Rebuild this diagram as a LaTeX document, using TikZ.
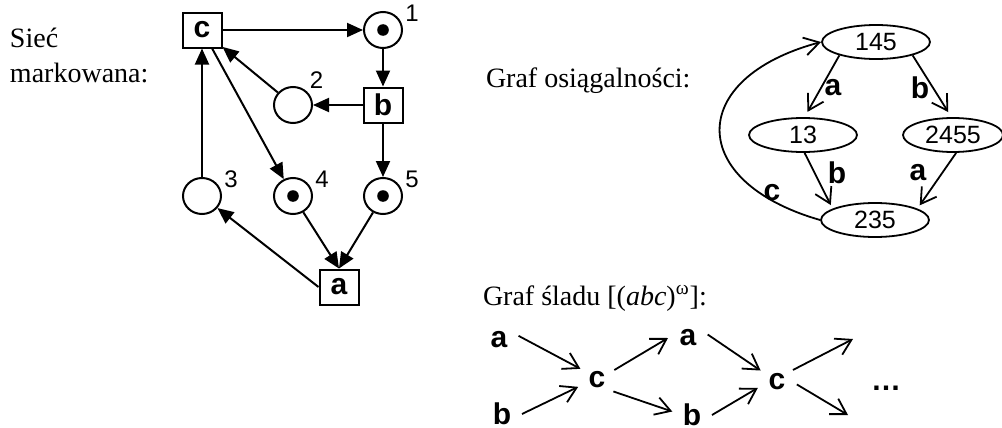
\documentclass[tikz,border=0pt]{standalone}
\usepackage{fontspec}
\setmainfont{Liberation Serif}
\setsansfont{Liberation Sans}
\usetikzlibrary{arrows.meta}
\usetikzlibrary{shapes.geometric}

\begin{document}
\begin{tikzpicture}[x=0.5pt, y=-0.5pt, line width=1pt,
    trans/.style={draw, rectangle, minimum width=19.5pt, minimum height=17.5pt, inner sep=0pt, font=\sffamily\bfseries\fontsize{15}{15}\selectfont},
    place/.style={draw, ellipse, minimum width=19pt, minimum height=18pt, inner sep=0pt},
    marked/.style={path picture={\fill (path picture bounding box.center) circle (2.9pt);}},
    num/.style={font=\sffamily\fontsize{12}{12}\selectfont, inner sep=1pt},
    state/.style={draw, ellipse, minimum width=54pt, minimum height=17pt, inner sep=0pt, line width=0.9pt, font=\sffamily\fontsize{12.5}{12.5}\selectfont},
    lab/.style={font=\sffamily\bfseries\fontsize{15}{15}\selectfont, inner sep=0pt},
    ev/.style={circle, minimum size=19pt, inner sep=0pt, font=\sffamily\bfseries\fontsize{15}{15}\selectfont},
    arc/.style={-{Triangle[length=8pt,width=7pt]}},
    edge/.style={-{Straight Barb[length=7.5pt,width=9pt]}, line width=0.9pt},
    txt/.style={anchor=base west, inner sep=0pt, font=\fontsize{14}{17}\selectfont}]
\useasboundingbox (0,0) rectangle (1002,428);

\node[txt] (siec) at (9,47) {Sieć};
\node[txt] (mark) at (9,82) {markowana:};
\node[txt] (reach) at (485,87) {Graf osiągalności:};
\node[txt] (trace) at (482,305) {Graf śladu [(\textit{abc})\textsuperscript{ω}]:};

% siec Petriego
\node[trans] (c) at (202,30) {c};
\node[trans] (b) at (383,105) {b};
\node[trans] (a) at (339,287) {a};
\node[place, marked, label={[num]15:1}] (p1) at (383,30) {};
\node[place, label={[num]45:2}] (p2) at (293,105) {};
\node[place, label={[num]15:3}] (p3) at (202,196) {};
\node[place, marked, label={[num]15:4}] (p4) at (293,196) {};
\node[place, marked, label={[num]15:5}] (p5) at (383,196) {};

\draw[arc] (c) -- (p1);
\draw[arc] (p1) -- (b);
\draw[arc] (b) -- (p2);
\draw[arc] (p2) -- (c);
\draw[arc] (c) -- (p4);
\draw[arc] (p3) -- (c);
\draw[arc] (b) -- (p5);
\draw[arc] (p4) -- (a.north);
\draw[arc] (p5) -- (a.north);
\draw[arc] (a.west) -- (p3);

% graf osiagalnosci
\node[state] (s145) at (876,42) {145};
\node[state] (s13) at (803,135) {13};
\node[state, minimum width=50pt] (s2455) at (953,135) {2455};
\node[state] (s235) at (875,220) {235};

\draw[edge, shorten >=3pt] (s145.200) -- (s13.85);
\draw[edge, shorten >=3pt] (s145.340) -- (s2455.95);
\draw[edge, shorten >=2pt] (s13.275) -- (s235.165);
\draw[edge, shorten >=2pt] (s2455.280) -- (s235.15);
\draw[edge] (s235.west) to[out=164, in=195, looseness=2] (s145.west);

\node[lab] (la1) at (833,88) {a};
\node[lab] (lb1) at (920,88) {b};
\node[lab] (lb2) at (837,173) {b};
\node[lab] (la2) at (918,173) {a};
\node[lab] (lc) at (772,193) {c};

% graf sladu
\node[ev] (a1) at (499,340) {a};
\node[ev] (b1) at (502,414) {b};
\node[ev] (c1) at (597,380) {c};
\node[ev] (a2) at (688,338) {a};
\node[ev] (b2) at (692,415) {b};
\node[ev] (c2) at (777,382) {c};
\node[ev] (dots) at (886,388) {…};
\coordinate (e1) at (853,339);
\coordinate (e2) at (848,415);

\draw[edge] (a1.12) -- (c1.146);
\draw[edge] (b1.0) -- (c1.200);
\draw[edge] (c1.30) -- (a2.180);
\draw[edge] (c1.325) -- (b2.170);
\draw[edge] (a2.10) -- (c2.145);
\draw[edge] (b2.0) -- (c2.197);
\draw[edge] (c2.37) -- (e1);
\draw[edge] (c2.353) -- (e2);
\end{tikzpicture}
\end{document}
